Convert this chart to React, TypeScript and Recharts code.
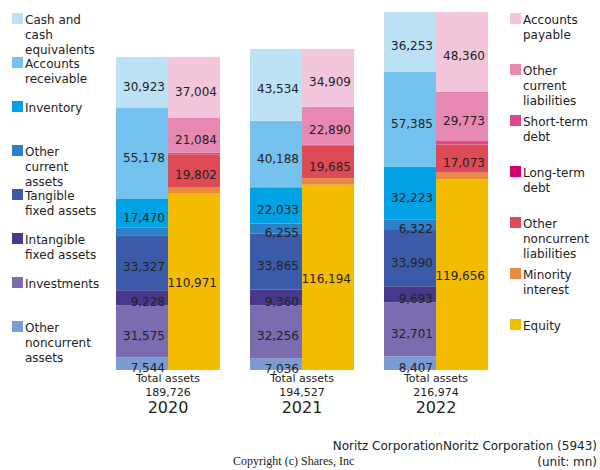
import React from 'react';
import { BarChart, Bar, XAxis, YAxis } from 'recharts';

const years = ['2020', '2021', '2022'];
const totalAssets = [189726, 194527, 216974];

// assets (bottom to top)
const otherNoncurrentAssets = [7544, 7036, 8407];
const investments = [31575, 32256, 32701];
const intangibleAssets = [9228, 9360, 9693];
const tangibleAssets = [33327, 33865, 33990];
const otherCurrentAssets = [4481, 6255, 6322];
const inventory = [17470, 22033, 32223];
const receivables = [55178, 40188, 57385];
const cash = [30923, 43534, 36253];

// liabilities + net assets (bottom to top)
const netAssets = [110971, 116194, 119656];
const minorityInterest = [3650, 3950, 4250];
const otherNoncurrentLiab = [19802, 19685, 17073];
const longTermDebt = [0, 0, 0];
const shortTermDebt = [865, 849, 2112];
const otherCurrentLiab = [21084, 22890, 29773];
const payables = [37004, 34909, 48360];

const FONT = '"DejaVu Sans", sans-serif';

interface Series {
  key: string;
  name: string[];
  color: string;
  values: number[];
  stack: 'a' | 'l';
}

const assetSeries: Series[] = [
  { key: 'otherNoncurrentAssets', name: ['Other', 'noncurrent', 'assets'], color: '#7a9bd3', values: otherNoncurrentAssets, stack: 'a' },
  { key: 'investments', name: ['Investments'], color: '#7b6baf', values: investments, stack: 'a' },
  { key: 'intangible', name: ['Intangible', 'fixed assets'], color: '#46388a', values: intangibleAssets, stack: 'a' },
  { key: 'tangible', name: ['Tangible', 'fixed assets'], color: '#3b5ba8', values: tangibleAssets, stack: 'a' },
  { key: 'otherCurrentAssets', name: ['Other', 'current', 'assets'], color: '#2b80c8', values: otherCurrentAssets, stack: 'a' },
  { key: 'inventory', name: ['Inventory'], color: '#00a2e3', values: inventory, stack: 'a' },
  { key: 'receivables', name: ['Accounts', 'receivable'], color: '#75c2ef', values: receivables, stack: 'a' },
  { key: 'cash', name: ['Cash and', 'cash', 'equivalents'], color: '#bde2f6', values: cash, stack: 'a' },
];

// equity bar shows net assets excluding minority interest
const equitySegment = netAssets.map((v, i) => v - minorityInterest[i]);

const liabSeries: Series[] = [
  { key: 'equity', name: ['Equity'], color: '#f4bc00', values: equitySegment, stack: 'l' },
  { key: 'minority', name: ['Minority', 'interest'], color: '#ea8a3c', values: minorityInterest, stack: 'l' },
  { key: 'otherNoncurrentLiab', name: ['Other', 'noncurrent', 'liabilities'], color: '#de4a55', values: otherNoncurrentLiab, stack: 'l' },
  { key: 'longTermDebt', name: ['Long-term', 'debt'], color: '#d4006c', values: longTermDebt, stack: 'l' },
  { key: 'shortTermDebt', name: ['Short-term', 'debt'], color: '#de478c', values: shortTermDebt, stack: 'l' },
  { key: 'otherCurrentLiab', name: ['Other', 'current', 'liabilities'], color: '#e889b4', values: otherCurrentLiab, stack: 'l' },
  { key: 'payables', name: ['Accounts', 'payable'], color: '#f3c6dc', values: payables, stack: 'l' },
];

const allSeries = [...assetSeries, ...liabSeries];

const data = years.map((year, i) => {
  const row: Record<string, string | number> = { year, total: totalAssets[i] };
  allSeries.forEach(s => {
    row[s.key] = s.values[i];
  });
  return row;
});

const fmt = (v: number) => v.toLocaleString('en-US');

function makeLabel(s: Series) {
  return (props: any) => {
    const { x, y, width, height, index } = props;
    let value = s.values[index];
    let h = height;
    if (s.key === 'equity') {
      value = netAssets[index];
      h = height * (netAssets[index] / equitySegment[index]);
    }
    if (value < 5000) return null;
    return (
      <text
        x={x + width - 3}
        y={y + height - h / 2 + 8.5}
        textAnchor="end"
        fontSize={12}
        fontFamily={FONT}
        fill="#222"
      >
        {fmt(value)}
      </text>
    );
  };
}

const YearTick = (props: any) => {
  const { x, y, payload } = props;
  const i = years.indexOf(payload.value);
  return (
    <g fontFamily={FONT} fill="#222" textAnchor="middle">
      <text x={x} y={y + 12} fontSize={11} fill="#222">Total assets</text>
      <text x={x} y={y + 26} fontSize={11} fill="#222">{fmt(totalAssets[i])}</text>
      <text x={x} y={y + 43} fontSize={16} fill="#222">{payload.value}</text>
    </g>
  );
};

function LegendBlock({ items, x, step }: { items: Series[]; x: number; step: number }) {
  return (
    <g fontFamily={FONT} fontSize={12} fill="#222">
      {items.map((s, i) => {
        const top = 13 + i * step;
        return (
          <g key={s.key}>
            <rect x={x} y={top} width={11} height={11} fill={s.color} />
            {s.name.map((line, j) => (
              <text key={j} x={x + 13} y={top + 10.5 + j * 15}>
                {line}
              </text>
            ))}
          </g>
        );
      })}
    </g>
  );
}

export default function App() {
  return (
    <div style={{ position: 'absolute', left: 0, top: 0, width: 600, height: 470, background: '#fff' }}>
      <BarChart
        width={600}
        height={470}
        data={data}
        margin={{ top: 12, right: 97, left: 101, bottom: 40 }}
        barGap={0}
        barSize={52}
      >
        <XAxis
          dataKey="year"
          axisLine={false}
          tickLine={false}
          tickSize={0}
          tickMargin={0}
          height={60}
          interval={0}
          tick={<YearTick />}
        />
        <YAxis hide width={0} domain={[0, Math.max(...totalAssets)]} />
        {allSeries.map(s => (
          <Bar
            key={s.key}
            dataKey={s.key}
            stackId={s.stack}
            fill={s.color}
            isAnimationActive={false}
            label={makeLabel(s)}
          />
        ))}
      </BarChart>
      <svg
        width={600}
        height={470}
        style={{ position: 'absolute', left: 0, top: 0, pointerEvents: 'none' }}
      >
        <LegendBlock items={[...assetSeries].reverse()} x={12} step={44} />
        <LegendBlock items={[...liabSeries].reverse()} x={510} step={51} />
        <text x={597} y={450} textAnchor="end" fontFamily={FONT} fontSize={12} fill="#222">
          Noritz CorporationNoritz Corporation (5943)
        </text>
        <text x={597} y={466} textAnchor="end" fontFamily={FONT} fontSize={12} fill="#222">
          (unit: mn)
        </text>
        <text x={233} y={465} fontFamily='"Liberation Serif", serif' fontSize={12} fill="#222">
          Copyright (c) Shares, Inc
        </text>
      </svg>
    </div>
  );
}
